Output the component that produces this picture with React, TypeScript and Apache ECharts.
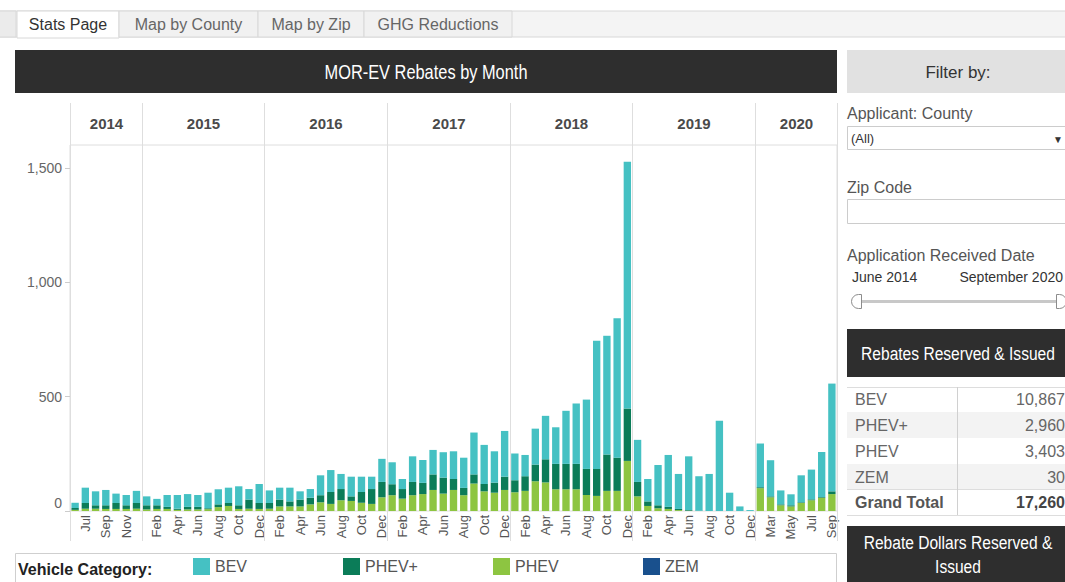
import React, { useEffect, useRef } from 'react';
import * as echarts from 'echarts';

const FONT = '"Liberation Sans", Arial, sans-serif';

const years = ['2014', '2015', '2016', '2017', '2018', '2019', '2020'];
const months2014 = ['Jun', 'Jul', 'Aug', 'Sep', 'Oct', 'Nov', 'Dec'];
const monthsFull = ['Jan', 'Feb', 'Mar', 'Apr', 'May', 'Jun', 'Jul', 'Aug', 'Sep', 'Oct', 'Nov', 'Dec'];
const months2020 = ['Feb', 'Mar', 'Apr', 'May', 'Jun', 'Jul', 'Aug', 'Sep'];
const yearMonths = [months2014, monthsFull, monthsFull, monthsFull, monthsFull, monthsFull, months2020];

// stacked values per month (Jun 2014 .. Sep 2020)
const phev = [
  5, 10, 10, 9, 9, 9, 10,
  7, 9, 9, 5, 7, 7, 8, 17, 22, 9, 10, 9,
  10, 20, 20, 20, 29, 38, 31, 47, 44, 36, 31, 60,
  69, 54, 69, 74, 92, 76, 92, 69, 120, 86, 80, 92,
  82, 88, 130, 125, 95, 95, 95, 70, 66, 88, 88, 219,
  64, 22, 12, 9, 4, 1, 0, 0, 0, 0, 0, 0,
  100, 60, 25, 20, 35, 47, 58, 74,
];
const phevPlus = [
  8, 25, 15, 16, 26, 16, 25,
  18, 16, 9, 5, 11, 11, 4, 12, 13, 16, 40, 26,
  25, 30, 22, 30, 29, 31, 52, 49, 20, 47, 65, 67,
  48, 42, 58, 49, 68, 70, 48, 32, 40, 32, 44, 58,
  52, 64, 73, 101, 111, 111, 111, 114, 118, 159, 145, 229,
  63, 20, 13, 9, 5, 3, 1, 0, 0, 0, 0, 0,
  4, 4, 4, 5, 3, 4, 3, 12,
];
const bev = [
  23, 67, 61, 67, 41, 45, 53,
  39, 28, 52, 60, 56, 52, 68, 66, 67, 83, 46, 83,
  55, 52, 60, 36, 38, 87, 96, 66, 86, 67, 54, 101,
  96, 44, 112, 100, 107, 111, 121, 132, 183, 171, 137, 200,
  117, 93, 157, 190, 160, 232, 264, 303, 560, 519, 610, 1079,
  184, 98, 176, 227, 153, 235, 151, 162, 394, 80, 20, 4,
  191, 158, 61, 48, 118, 130, 197, 471,
];
const zem = [
  0, 0, 0, 0, 0, 0, 0,
  0, 0, 0, 0, 0, 0, 0, 0, 0, 0, 0, 0,
  0, 0, 0, 0, 0, 0, 0, 0, 0, 0, 0, 0,
  0, 0, 0, 0, 0, 0, 0, 0, 0, 0, 0, 0,
  0, 0, 0, 0, 0, 0, 0, 0, 0, 0, 0, 0,
  0, 0, 0, 0, 0, 0, 0, 0, 0, 0, 0, 0,
  0, 0, 0, 0, 0, 0, 0, 0,
];

const yTicks = [0, 500, 1000, 1500];

const seriesNames = ['BEV', 'PHEV+', 'PHEV', 'ZEM'];
const seriesColors = ['#45c1c3', '#0b7c58', '#8dc541', '#19508d'];

const tabNames = ['Stats Page', 'Map by County', 'Map by Zip', 'GHG Reductions'];
const tableLabels = ['BEV', 'PHEV+', 'PHEV', 'ZEM', 'Grand Total'];
const tableValues = [10867, 2960, 3403, 30, 17260];

export default function App() {
  const ref = useRef<HTMLDivElement>(null);

  useEffect(() => {
    document.body.style.margin = '0';
    const chart = echarts.init(ref.current!, null, { renderer: 'svg' });

    const categories: string[] = [];
    const withinYear: number[] = [];
    const paneData: number[][] = [];
    yearMonths.forEach((ms, yi) => {
      const start = categories.length;
      ms.forEach((m, mi) => {
        categories.push(m + ' ' + years[yi]);
        withinYear.push(mi);
      });
      paneData.push([start, categories.length - 1, yi]);
    });

    const narrowText = (text: string, x: number, y: number, size: number) => ({
      type: 'text', x, y, scaleX: 0.82,
      style: { text, fill: '#ffffff', fontSize: size, fontFamily: FONT, align: 'center', verticalAlign: 'middle' },
    });

    // dashboard chrome
    const g: any[] = [];
    g.push({ type: 'rect', shape: { x: -1, y: 11, width: 1067, height: 26 }, style: { fill: '#f4f4f4', stroke: '#d8d8d8' } });
    g.push({ type: 'rect', shape: { x: -1, y: 11, width: 17, height: 26 }, style: { fill: '#ebebeb', stroke: '#d8d8d8' } });
    const tabX = [17, 119, 258, 364, 512];
    tabNames.forEach((t, i) => {
      const sel = i === 0;
      g.push({ type: 'rect', shape: { x: tabX[i], y: 11, width: tabX[i + 1] - tabX[i], height: sel ? 27 : 26 }, style: { fill: sel ? '#ffffff' : '#f1f1f1', stroke: '#d8d8d8' } });
      g.push({ type: 'text', x: (tabX[i] + tabX[i + 1]) / 2, y: 24, style: { text: t, fill: sel ? '#333333' : '#666666', fontSize: 16, fontFamily: FONT, align: 'center', verticalAlign: 'middle' } });
    });

    // chart title bar
    g.push({ type: 'rect', shape: { x: 15, y: 50, width: 822, height: 43 }, style: { fill: '#2e2e2e' } });
    g.push(narrowText('MOR-EV Rebates by Month', 426, 72, 20));

    // legend box
    g.push({ type: 'rect', shape: { x: 15.5, y: 553.5, width: 821, height: 40 }, style: { fill: 'none', stroke: '#cfcfcf' } });
    g.push({ type: 'text', x: 18, y: 569, style: { text: 'Vehicle Category:', fill: '#222222', fontSize: 16, fontWeight: 'bold', fontFamily: FONT, align: 'left', verticalAlign: 'middle' } });

    // right panel
    g.push({ type: 'rect', shape: { x: 847, y: 50, width: 220, height: 43 }, style: { fill: '#e1e1e1' } });
    g.push({ type: 'text', x: 958, y: 72, style: { text: 'Filter by:', fill: '#333333', fontSize: 17, fontFamily: FONT, align: 'center', verticalAlign: 'middle' } });
    g.push({ type: 'text', x: 847, y: 113, style: { text: 'Applicant: County', fill: '#555555', fontSize: 16, fontFamily: FONT, align: 'left', verticalAlign: 'middle' } });
    g.push({ type: 'rect', shape: { x: 847.5, y: 126.5, width: 220, height: 23 }, style: { fill: '#ffffff', stroke: '#cccccc' } });
    g.push({ type: 'text', x: 851, y: 138, style: { text: '(All)', fill: '#333333', fontSize: 13, fontFamily: FONT, align: 'left', verticalAlign: 'middle' } });
    g.push({ type: 'text', x: 1058, y: 139, style: { text: '▼', fill: '#333333', fontSize: 10, fontFamily: FONT, align: 'center', verticalAlign: 'middle' } });
    g.push({ type: 'text', x: 847, y: 187, style: { text: 'Zip Code', fill: '#555555', fontSize: 16, fontFamily: FONT, align: 'left', verticalAlign: 'middle' } });
    g.push({ type: 'rect', shape: { x: 847.5, y: 199.5, width: 220, height: 24 }, style: { fill: '#ffffff', stroke: '#cccccc' } });
    g.push({ type: 'text', x: 847, y: 255, style: { text: 'Application Received Date', fill: '#555555', fontSize: 16, fontFamily: FONT, align: 'left', verticalAlign: 'middle' } });
    g.push({ type: 'text', x: 852, y: 277, style: { text: 'June 2014', fill: '#333333', fontSize: 14, fontFamily: FONT, align: 'left', verticalAlign: 'middle' } });
    g.push({ type: 'text', x: 1063, y: 277, style: { text: 'September 2020', fill: '#333333', fontSize: 14, fontFamily: FONT, align: 'right', verticalAlign: 'middle' } });
    g.push({ type: 'line', shape: { x1: 858, y1: 301.5, x2: 1060, y2: 301.5 }, style: { stroke: '#c8c8c8', lineWidth: 3 } });
    g.push({ type: 'rect', shape: { x: 851.5, y: 294.5, width: 10, height: 14, r: [7, 0, 0, 7] }, style: { fill: '#ffffff', stroke: '#8c8c8c' } });
    g.push({ type: 'rect', shape: { x: 1056.5, y: 294.5, width: 10, height: 14, r: [0, 7, 7, 0] }, style: { fill: '#ffffff', stroke: '#8c8c8c' } });

    g.push({ type: 'rect', shape: { x: 847, y: 329, width: 220, height: 48 }, style: { fill: '#2e2e2e' } });
    g.push(narrowText('Rebates Reserved & Issued', 958, 353, 19));

    const rowTop = [387, 412, 438, 464, 490, 515];
    tableLabels.forEach((lab, i) => {
      const y0 = rowTop[i];
      const y1 = rowTop[i + 1];
      const grey = i % 2 === 1;
      g.push({ type: 'rect', shape: { x: 847, y: y0, width: 220, height: y1 - y0 }, style: { fill: grey ? '#f3f3f3' : '#ffffff' } });
      const bold = i === tableLabels.length - 1;
      g.push({ type: 'text', x: 855, y: (y0 + y1) / 2, style: { text: lab, fill: bold ? '#555555' : '#666666', fontSize: 16, fontWeight: bold ? 'bold' : 'normal', fontFamily: FONT, align: 'left', verticalAlign: 'middle' } });
      g.push({ type: 'text', x: 1065, y: (y0 + y1) / 2, style: { text: tableValues[i].toLocaleString('en-US'), fill: bold ? '#444444' : '#666666', fontSize: 16, fontWeight: bold ? 'bold' : 'normal', fontFamily: FONT, align: 'right', verticalAlign: 'middle' } });
    });
    g.push({ type: 'line', shape: { x1: 847, y1: 387.5, x2: 1066, y2: 387.5 }, style: { stroke: '#dddddd' } });
    g.push({ type: 'line', shape: { x1: 847, y1: 489.5, x2: 1066, y2: 489.5 }, style: { stroke: '#dddddd' } });
    g.push({ type: 'line', shape: { x1: 847, y1: 515.5, x2: 1066, y2: 515.5 }, style: { stroke: '#dddddd' } });
    g.push({ type: 'line', shape: { x1: 957.5, y1: 387, x2: 957.5, y2: 515 }, style: { stroke: '#d0d0d0' } });

    g.push({ type: 'rect', shape: { x: 847, y: 526, width: 220, height: 60 }, style: { fill: '#2e2e2e' } });
    g.push(narrowText('Rebate Dollars Reserved &', 958, 542, 19));
    g.push(narrowText('Issued', 958, 566, 19));

    const barData: number[][] = [phev, phevPlus, bev, zem];
    const barNames = ['PHEV', 'PHEV+', 'BEV', 'ZEM'];
    const legendLeft = [193, 343, 493, 643];

    const option: any = {
      animation: false,
      textStyle: { fontFamily: FONT },
      graphic: { elements: g },
      legend: seriesNames.map((n, i) => ({
        data: [n],
        left: legendLeft[i],
        top: 558,
        padding: 0,
        itemWidth: 17,
        itemHeight: 17,
        itemGap: 0,
        icon: 'rect',
        selectedMode: false,
        textStyle: { fontSize: 16, color: '#555555', fontFamily: FONT },
      })),
      grid: { left: 70, right: 228, top: 145, bottom: 71, show: true, borderColor: '#dedede', borderWidth: 1 },
      xAxis: {
        type: 'category',
        data: categories,
        axisLine: { show: false },
        axisTick: { show: false },
        splitLine: { show: false },
        axisLabel: {
          rotate: 90,
          interval: (i: number) => withinYear[i] % 2 === 1,
          formatter: (v: string) => v.split(' ')[0],
          fontSize: 13,
          color: '#555555',
          margin: 4,
          fontFamily: FONT,
        },
      },
      yAxis: {
        type: 'value',
        min: 0,
        max: 1600,
        interval: 500,
        axisLine: { show: false },
        splitLine: { show: false },
        axisTick: { show: true, length: 5, lineStyle: { color: '#cccccc' }, customValues: yTicks },
        axisLabel: {
          customValues: yTicks,
          fontSize: 14,
          color: '#666666',
          margin: 8,
          fontFamily: FONT,
          formatter: (v: number) => (v > 1500 ? '' : v === 0 ? '{z|0}' : v.toLocaleString('en-US')),
          rich: { z: { fontSize: 14, color: '#666666', fontFamily: FONT, padding: [0, 0, 16, 0] } },
        },
      },
      series: [
        ...barNames.map((n, i) => ({
          name: n,
          type: 'bar',
          stack: 'total',
          data: barData[i],
          barWidth: '72%',
          itemStyle: { color: seriesColors[seriesNames.indexOf(n)] },
          z: 3,
        })),
        {
          type: 'custom',
          name: 'panes',
          silent: true,
          clip: false,
          z: 1,
          data: paneData,
          renderItem: (params: any, api: any) => {
            const s = api.value(0);
            const e = api.value(1);
            const yi = api.value(2);
            const band = api.size([1, 0])[0];
            const xs = Math.round(api.coord([s, 0])[0] - band / 2) + 0.5;
            const xe = Math.round(api.coord([e, 0])[0] + band / 2) + 0.5;
            const yZero = api.coord([s, 0])[1];
            const yTop = params.coordSys.y;
            const children: any[] = [
              { type: 'line', shape: { x1: xs, y1: yTop - 42, x2: xs, y2: yZero + 30 }, style: { stroke: '#dedede', lineWidth: 1 } },
              { type: 'text', x: (xs + xe) / 2, y: yTop - 22, style: { text: years[yi], fill: '#4a4a4a', fontSize: 15, fontWeight: 'bold', fontFamily: FONT, align: 'center', verticalAlign: 'middle' } },
            ];
            if (yi === years.length - 1) {
              children.push({ type: 'line', shape: { x1: xe, y1: yTop - 42, x2: xe, y2: yZero + 30 }, style: { stroke: '#dedede', lineWidth: 1 } });
            }
            return { type: 'group', children };
          },
        },
      ],
    };

    chart.setOption(option);
    return () => chart.dispose();
  }, []);

  return <div ref={ref} style={{ width: 1065, height: 582 }} />;
}
